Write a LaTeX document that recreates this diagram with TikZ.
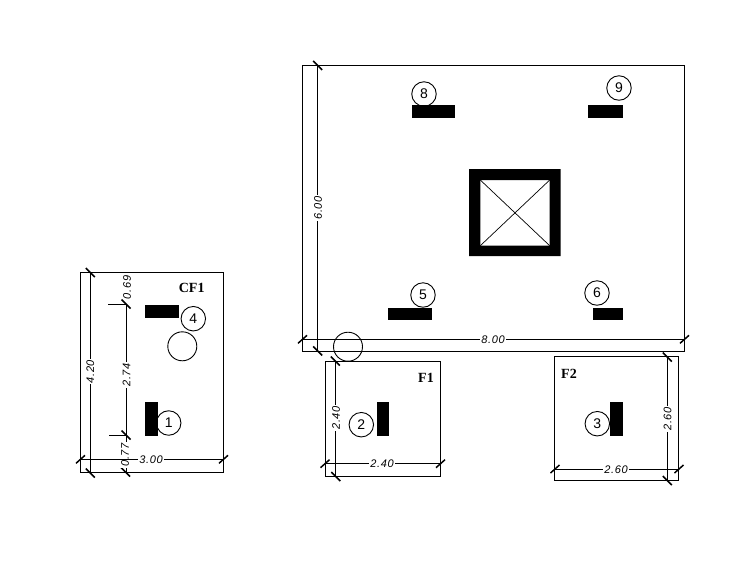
\documentclass[tikz,border=0pt]{standalone}
\usepackage{fontspec}
\setmainfont{Liberation Sans}
\newfontfamily\titlefont{Liberation Serif}
\newfontfamily\dimfont[LetterSpace=6]{Liberation Sans}
\tikzset{
  every picture/.style={x=1pt,y=-1pt},
  wall/.style={draw=black,line width=1pt},
  dimline/.style={draw=black,line width=1pt},
  tick/.style={draw=black,line width=1.5pt},
  mark circle/.style={circle,draw=black,line width=0.9pt,minimum size=24.5pt,inner sep=0pt,font=\fontsize{14}{14}\selectfont},
  empty circle/.style={circle,draw=black,line width=0.9pt,minimum size=29pt,inner sep=0pt},
  dimtext/.style={font=\dimfont\itshape\fontsize{11}{11}\selectfont,fill=white,inner sep=1pt},
  dimtextv/.style={dimtext,rotate=90},
  title/.style={font=\titlefont\bfseries\fontsize{14}{14}\selectfont,inner sep=0pt},
}
\newcommand{\tickat}[2]{\draw[tick] (#1-4.5,#2-4.5) -- (#1+4.5,#2+4.5);}
\newcommand{\tickbt}[2]{\draw[tick] (#1-4.5,#2+4) -- (#1+4.5,#2-4);}
\begin{document}
\begin{tikzpicture}
\useasboundingbox (0,0) rectangle (737,566);
% CF1
\draw[wall] (80.3,272.3) rectangle (223.7,472);
\fill (145,305) rectangle (179,318);
\fill (145,402) rectangle (158,435.7);
\node[mark circle] (c4) at (193.3,318.7) {4};
\node[mark circle] (c1) at (168.7,423) {1};
\node[empty circle] (e1) at (182.3,346.3) {};
\node[title] (tcf) at (191.7,288.3) {CF1};
\draw[dimline] (90.3,272) -- (90.3,472);
\tickat{90.3}{272.5}\tickat{90.3}{473}
\node[dimtextv] (t420) at (90.3,371.7) {4.20};
\draw[dimline] (126,304) -- (126,472);
\draw[dimline] (108,304) -- (126,304);
\draw[dimline] (109,435) -- (126,435);
\tickat{126}{304}\tickat{126}{435}\tickat{125.5}{472}
\node[dimtextv] (t274) at (126.5,375) {2.74};
\node[dimtextv] (t077) at (125,455) {0.77};
\node[dimtext,rotate=90,fill=none] (t069) at (127,287.5) {0.69};
\draw[dimline] (80,459.3) -- (224,459.3);
\tickbt{80.5}{459.3}\tickbt{223.5}{459.3}
\node[dimtext] (t300) at (151,459.3) {3.00};
% Main
\draw[wall] (302.3,65.3) rectangle (684.7,351);
\draw[dimline] (317.7,65) -- (317.7,351);
\tickat{317.7}{65.5}\tickat{317.7}{351}
\node[dimtextv] (t600) at (318,208) {6.00};
\draw[dimline] (302,339.3) -- (685,339.3);
\tickbt{302.5}{339.3}\tickbt{684.5}{339.3}
\node[dimtext] (t800) at (493,339.3) {8.00};
\fill (412,105) rectangle (455,117.7);
\fill (588,105) rectangle (623,118);
\fill (388,308) rectangle (432,320);
\fill (593,308) rectangle (623,320);
\node[mark circle] (c8) at (424,94) {8};
\node[mark circle] (c9) at (619,88) {9};
\node[mark circle] (c5) at (423,295) {5};
\node[mark circle] (c6) at (597,293) {6};
\fill[even odd rule] (469,169) rectangle (560.7,256) (480.3,180) rectangle (549.7,245.7);
\draw[line width=0.7pt] (480.3,180) -- (549.7,245.7) (549.7,180) -- (480.3,245.7);
\node[empty circle] (e2) at (348,346.7) {};
% F1
\draw[wall] (325.7,361.3) rectangle (440.3,476);
\fill (377,401.7) rectangle (389,436);
\node[mark circle] (c2) at (361.3,424.7) {2};
\node[title] (tf1) at (426,378) {F1};
\draw[dimline] (335.3,361) -- (335.3,476);
\tickat{335.3}{361}\tickat{335.8}{476.5}
\node[dimtextv] (t240v) at (336,418) {2.40};
\draw[dimline] (325,463.7) -- (440,463.7);
\tickbt{325}{463.7}\tickbt{440.5}{463.7}
\node[dimtext] (t240h) at (382,463.7) {2.40};
% F2
\draw[wall] (554.3,356.3) rectangle (678.3,480.3);
\fill (610,402) rectangle (623,435.7);
\node[mark circle] (c3) at (597.3,423.7) {3};
\node[title] (tf2) at (569,374.3) {F2};
\draw[dimline] (667.3,356) -- (667.3,480);
\tickat{667.3}{357}\tickat{667.3}{480.5}
\node[dimtextv] (t260v) at (667.7,419) {2.60};
\draw[dimline] (554,469) -- (679,469);
\tickbt{555}{469}\tickbt{679}{469}
\node[dimtext] (t260h) at (616,469.5) {2.60};
\end{tikzpicture}
\end{document}
